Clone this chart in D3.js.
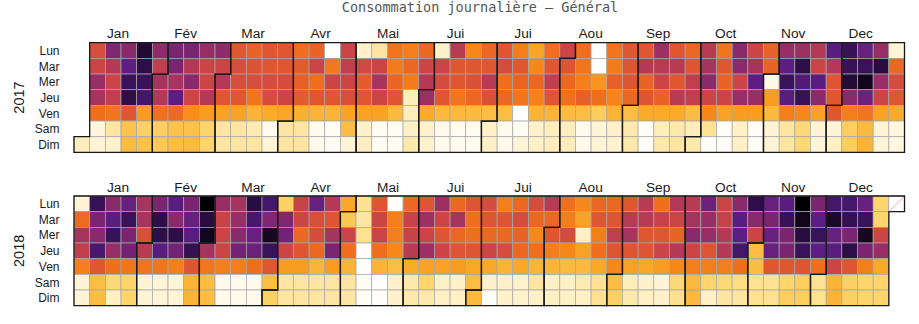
<!DOCTYPE html>
<html><head><meta charset="utf-8">
<script src="https://cdn.jsdelivr.net/npm/d3@7"></script>
<style>body{margin:0;background:#fff}svg{display:block}</style>
</head><body>
<svg id="chart" width="919" height="324"></svg>
<script>
// ---------- data ----------
const titleText = "Consommation journalière – Général";
const years = [2017, 2018];
const dayLabels = ["Lun", "Mar", "Mer", "Jeu", "Ven", "Sam", "Dim"];
const monthLabels = ["Jan", "Fév", "Mar", "Avr", "Mai", "Jui", "Jui", "Aou", "Sep", "Oct", "Nov", "Dec"];
// month label positions, in weeks from the panel's left edge
const monthTickWeeks = [2.81, 7.12, 11.43, 15.74, 20.04, 24.35, 28.66, 32.97, 37.28, 41.59, 45.90, 50.21];

// daily consumption index, one array per weekday, indexed by week of year (null = no such day / missing)
const lun2017 = [null, 8.5, 11.8, 11.5, 15.5, 11.3, 12, 12, 11, 11.3, 8, 7.5, 8, 8, 7, 7.5, 0, 9, 1.2, 2, 6.8, 6.5, 7.3, 1.2, 9.8, 6.2, 7.3, 8, 6.5, 5.2, 7, 9, 7, 0.1, 6.8, 8, 8, 10.8, 8, 7.3, 9.8, 6.8, 11.5, 9, 7.5, 11, 10.8, 10, 13.2, 14.6, 12.7, 11, 1];
const mar2017 = [null, 9, 10, 13, 15, 9.5, 12, 10, 9, 9, 8.5, 8.2, 8, 8, 7.8, 9, 6.7, 9.5, 8.8, 9, 6.6, 7.3, 9, 9, 8, 8, 8, 8.6, 8, 6.2, 8, 8.1, 6.8, 0.1, 6.6, 8.1, 10, 9.8, 9.8, 8.1, 10.5, 8, 11.5, 10.5, 7.5, 13, 15, 9, 10, 14.6, 14.5, 15.2, 7.3];
const mer2017 = [null, 11, 9, 14.5, 14.5, 10.5, 10.5, 11.5, 9, 10, 8.5, 8.5, 8.6, 8.6, 7.6, 7, 9, 9, 7.8, 10.5, 7.4, 6.6, 10, 8.6, 8, 8.3, 9.8, 7, 7.4, 7.3, 9.5, 7.3, 6.5, 5.7, 7.6, 8.1, 7.5, 9, 8, 9.5, 11.5, 7.5, 9, 13, 0.6, 14.5, 13.5, 13.2, 8.1, 15.4, 16.2, 11, 8.6];
const jeu2017 = [null, 10.5, 9.5, 15, 14, 10, 13, 9, 10, 8, 8, 6.8, 8.6, 9, 7.8, 8, 8, 8.4, 8, 9, 8.1, 1.5, 10.8, 8, 6.8, 7.3, 8.3, 7.3, 6.8, 6.4, 8.1, 7, 7.6, 7, 6.3, 7.3, 8.1, 7.5, 9.8, 9.5, 9, 9, 11, 11, 5.5, 13.2, 14.6, 11.5, 8, 11.5, 12.5, 9, 8];
const ven2017 = [null, 7, 6.8, 8, 5.5, 7, 7.2, 6, 5.5, 5.3, 5.3, 4.6, 5, 5.2, 4.8, 4.6, 4.6, 5.3, 5.3, 5.3, 4.3, 1.5, 5, 4.4, 4.4, 4.3, 4.2, 4.2, 0, 4.6, 4.6, 4.3, 4.2, 3.4, 4.6, 4.2, 5, 5, 5, 4.2, 6.2, 5.3, 5.5, 5.5, 4.4, 6.5, 6.2, 5.3, 8, 6.5, 6.8, 5.3, 5];
const sam2017 = [null, 0.8, 2, 4, 3.2, 3.3, 4, 4, 3, 2, 2, 1.7, 0.4, 2, 2, 0.4, 0.3, 4.2, 1.2, 0.3, 0.3, 1.3, 1.2, 0.5, 0.4, 0.4, 1.3, 0.5, 0.3, 1.2, 1.5, 1.5, 0.5, 1, 1.2, 1.8, 0.2, 1.5, 1.8, 1.5, 2.3, 0.2, 1.3, 0.2, 1, 2, 2.8, 1, 1, 3.4, 4.4, 1, 0.8];
const dim2017 = [1.5, 1, 1.2, 4.3, 4, 3.6, 4.2, 4.3, 3, 2, 2, 2, 1, 2, 2, 0.5, 0.3, 1, 1.4, 0.3, 0.3, 1.8, 1.2, 0.4, 0.4, 0.4, 1.3, 0.5, 1, 1.3, 1.5, 1.5, 0.5, 1, 1.1, 1.8, 0.2, 1.8, 2, 1.8, 0.2, 0.2, 1.3, 0.2, 1, 2, 2.8, 1, 1.3, 3.4, 4.6, 1, 0.8];

const lun2018 = [1, 14.6, 11.5, 12.7, 10.5, 12, 13.2, 12, 17, 11, 10.5, 15.2, 14, 3.2, 9.2, 12.7, 10, 5.1, 2.3, 8.1, 0.1, 7.3, 8.1, 10.8, 7.3, 8.1, 8.6, 6.5, 7.3, 8.6, 9.8, 7, 6.2, 7.3, 7.3, 8, 9.8, 7, 10, 9.8, 12.5, 9, 11.5, 15, 12.7, 13.2, 17, 12, 14, 14, 12.7, 3, null];
const mar2018 = [7.2, 12, 13.2, 14.5, 10.5, 15, 11.5, 12.7, 15.2, 9.2, 11, 14, 11.8, 11.8, 9, 8.4, 8.1, 3.7, 2, 9, 6.5, 9.2, 10.8, 9, 10.5, 7, 8.1, 8.1, 8.6, 7.3, 7.3, 6.5, 5.3, 8, 8.1, 9.8, 9.8, 9.2, 9, 10.5, 11, 9.2, 13.2, 11.5, 12, 14.6, 16.2, 13, 15.8, 14.7, 14.5, 3, null];
const mer2018 = [10.5, 11.5, 14.6, 12, 8.4, 15, 15, 13.2, 16.2, 9, 11.5, 12.7, 16, 12.3, 7.3, 8.6, 10.5, 9, 2.3, 9, 6.5, 9.2, 9, 8.1, 7.3, 7, 7.3, 7.3, 7.5, 6.2, 8.1, 8.6, 1.3, 6.5, 9.5, 10.5, 8, 8, 7.5, 11.5, 11, 10, 13, 9, 12.7, 12, 15.2, 14.5, 12.7, 12, 16, 9, null];
const jeu2018 = [9.5, 13.8, 11, 12.3, 9.8, 13.2, 12.3, 14.7, 10.5, 9, 12.3, 12.5, 14.5, 9, 8.1, 7.3, 12, 7, 0.1, 7, 6.2, 9.8, 10.8, 9, 8.1, 8.1, 9, 8.6, 7.3, 7, 6.5, 6.2, 5.3, 7, 8.1, 8.1, 8.1, 9, 10, 9, 8.1, 10, 14, 4.2, 12.7, 12, 14.5, 13, 13.2, 15, 12, 11, null];
const ven2018 = [6.5, 8, 7, 6.8, 6.8, 6.8, 6.5, 8.1, 6.8, 6.5, 6.5, 7, 8, 5.5, 5.5, 4.6, 5.5, 4.6, 0.1, 4.6, 4.2, 5, 5.3, 5.3, 5.5, 5.1, 5.1, 4.6, 5.1, 4.6, 4.6, 4.4, 4.4, 5.1, 6.2, 5.3, 5.1, 5.5, 6.2, 6.5, 6.5, 6.5, 7, 4.2, 8, 8, 8.1, 7, 9, 8.1, 6.5, 5.1, null];
const sam2018 = [1, 4.2, 2.8, 3, 1, 1, 1, 4.6, 4.2, 0.5, 0.5, 0.5, 4.2, 2, 2, 2, 2, 2, 0.3, 0.1, 1.2, 1.8, 3, 1.3, 1.3, 4.2, 1.2, 1.2, 1.2, 2, 1.3, 1.3, 1.7, 2.3, 4.2, 1.5, 1.2, 1, 2.8, 4.4, 3, 2.8, 2.6, 2.3, 2.3, 3, 3.4, 2.3, 4.6, 3.2, 3, 3, null];
const dim2018 = [1, 4.2, 1.3, 3, 1, 1, 1, 4.6, 4.2, 0.5, 0.5, 0.5, 3.2, 2, 2, 2, 2, 2, 0.2, 0.1, 1.2, 1.8, 1.8, 1.3, 1.3, 4.4, 0.1, 1.2, 1.2, 1.3, 1.3, 1.3, 1.3, 2.3, 3.2, 1.8, 1.3, 1.2, 2.3, 4.4, 1.3, 2, 2, 2.3, 2.3, 3.4, 3.4, 2.3, 4.6, 3.2, 3, 3, null];

const rows2017 = [lun2017, mar2017, mer2017, jeu2017, ven2017, sam2017, dim2017];
const rows2018 = [lun2018, mar2018, mer2018, jeu2018, ven2018, sam2018, dim2018];
const tables = new Map([[2017, rows2017], [2018, rows2018]]);

// ---------- style ----------
const palette = ["#FFFFFF","#FFF4D6","#FEE6A2","#FDD56C","#FCC24A","#FAAB2A","#F78D1A","#EF6F1E","#DF5731",
                 "#CC4546","#B33957","#972E65","#7B2571","#5D1E83","#44176A","#2E0E48","#170820","#000004"];
const cs = 15.67;
const left = 74;

const svg = d3.select("#chart");
const x = d3.scaleLinear().domain([0, 53]).range([left, left + 53 * cs]);
const panelTop = d3.scaleOrdinal().domain(years).range([42.7, 196]);
const color = d3.scaleLinear().domain(d3.range(palette.length)).range(palette).clamp(true);
const weekOf = d => d3.utcMonday.count(d3.utcYear(d), d);
const rowOf = d => (d.getUTCDay() + 6) % 7;

svg.append("text")
  .attr("x", 480).attr("y", 12.3)
  .attr("text-anchor", "middle")
  .attr("font-family", "'DejaVu Sans Mono', monospace")
  .attr("font-size", 13.5)
  .attr("fill", "#555")
  .text(titleText);

years.forEach(yr => {
  const top = panelTop(yr);
  const yb = d3.scaleBand().domain(dayLabels).range([top, top + 7 * cs]);
  const ye = d3.scaleLinear().domain([0, 7]).range([top, top + 7 * cs]);
  const table = tables.get(yr);
  const days = d3.utcDays(new Date(Date.UTC(yr, 0, 1)), new Date(Date.UTC(yr + 1, 0, 1)));
  const cells = days.map(d => {
    const r = rowOf(d), c = weekOf(d);
    return { d, r, c, v: table[r][c] };
  });
  const g = svg.append("g");

  g.selectAll("rect.day").data(cells).join("rect")
    .attr("class", "day")
    .attr("x", d => x(d.c)).attr("y", d => yb(dayLabels[d.r]))
    .attr("width", x(1) - x(0)).attr("height", yb.bandwidth())
    .attr("fill", d => d.v == null ? "#ffffff" : color(d.v))
    .attr("stroke", "#a6a6a6").attr("stroke-width", 0.7);

  g.selectAll("line.na").data(cells.filter(d => d.v == null)).join("line")
    .attr("class", "na")
    .attr("x1", d => x(d.c) + 1).attr("y1", d => yb(dayLabels[d.r]) + yb.bandwidth() - 1)
    .attr("x2", d => x(d.c + 1) - 1).attr("y2", d => yb(dayLabels[d.r]) + 1)
    .attr("stroke", "#f08a8a").attr("stroke-width", 0.8);

  const months = d3.utcMonths(new Date(Date.UTC(yr, 0, 1)), new Date(Date.UTC(yr + 1, 0, 1)));
  g.selectAll("path.month").data(months).join("path")
    .attr("class", "month")
    .attr("d", t0 => {
      const t1 = new Date(Date.UTC(yr, t0.getUTCMonth() + 1, 0));
      const d0 = rowOf(t0), w0 = weekOf(t0), d1 = rowOf(t1), w1 = weekOf(t1);
      return `M${x(w0 + 1)},${ye(d0)}H${x(w0)}V${ye(7)}H${x(w1)}V${ye(d1 + 1)}H${x(w1 + 1)}V${ye(0)}H${x(w0 + 1)}Z`;
    })
    .attr("fill", "none").attr("stroke", "#1a1a1a").attr("stroke-width", 1.3);

  g.selectAll("text.mlab").data(monthLabels).join("text")
    .attr("class", "mlab")
    .attr("x", (m, i) => x(monthTickWeeks[i])).attr("y", top - 4.4)
    .attr("text-anchor", "middle")
    .attr("font-family", "'Liberation Sans', Arial, sans-serif")
    .attr("font-size", 13.7).attr("fill", "#1a1a1a")
    .text(m => m);

  g.selectAll("text.dlab").data(dayLabels).join("text")
    .attr("class", "dlab")
    .attr("x", 59.5).attr("y", d => yb(d) + yb.bandwidth() / 2)
    .attr("dy", "0.36em")
    .attr("text-anchor", "end")
    .attr("font-family", "'Liberation Sans', Arial, sans-serif")
    .attr("font-size", 12).attr("fill", "#1a1a1a")
    .text(d => d);

  g.append("text")
    .attr("transform", `translate(24,${ye(3.5)}) rotate(-90)`)
    .attr("text-anchor", "middle")
    .attr("font-family", "'Liberation Sans', Arial, sans-serif")
    .attr("font-size", 14.5).attr("fill", "#1a1a1a")
    .text(yr);
});
</script>
</body></html>
